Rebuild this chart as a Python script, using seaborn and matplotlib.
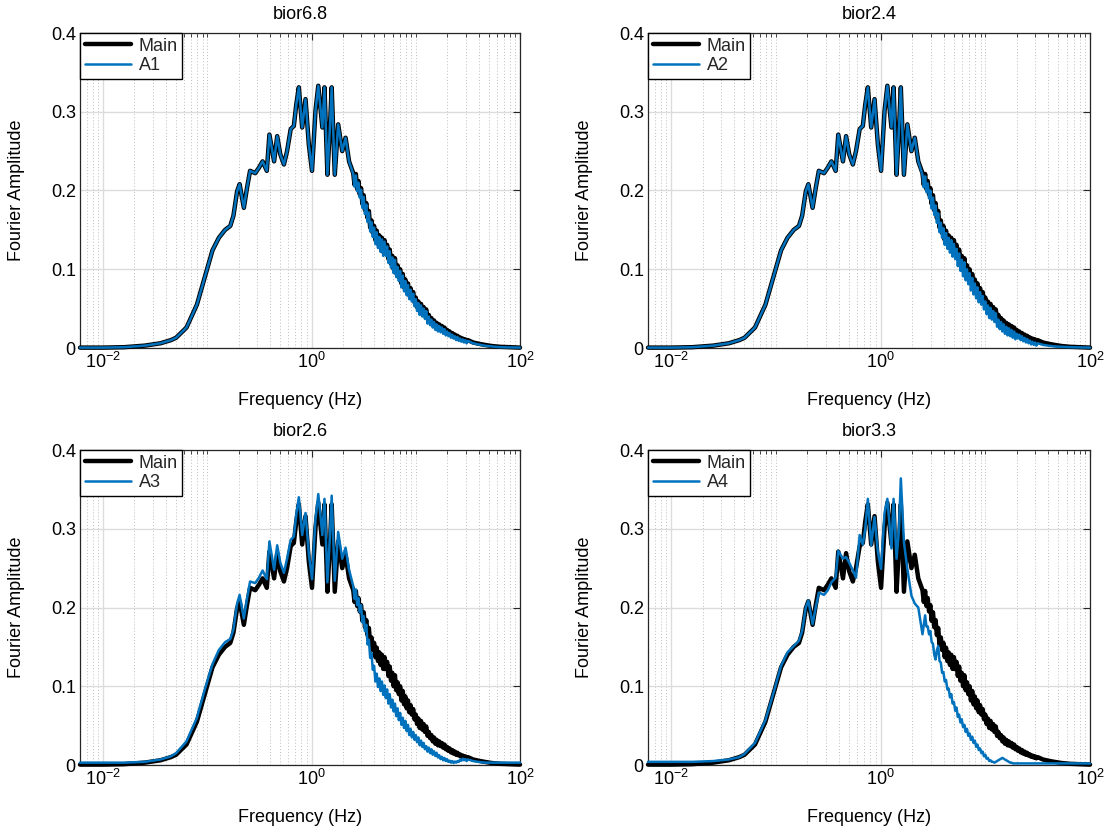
import matplotlib
matplotlib.use("Agg")
import matplotlib.pyplot as plt
import seaborn as sns
from matplotlib.ticker import FixedLocator, FixedFormatter, LogFormatterMathtext, NullFormatter

# Shared frequency axis of the Fourier spectra (Hz)
freq_hz = [
    0.0060, 0.0100, 0.0158, 0.0251, 0.0355, 0.0447, 0.0501, 0.0631, 0.0794, 0.0955,
    0.112, 0.129, 0.148, 0.166, 0.178, 0.193, 0.204, 0.224, 0.240, 0.257,
    0.288, 0.313, 0.339, 0.372, 0.394, 0.437, 0.468, 0.501, 0.543, 0.582,
    0.631, 0.676, 0.713, 0.755, 0.813, 0.875, 0.942, 1.01, 1.09, 1.16,
    1.27, 1.33, 1.42, 1.50, 1.56, 1.67, 1.80, 1.97, 2.12, 2.29,
    2.512, 2.585, 2.661, 2.738, 2.818, 2.901, 2.985, 3.073, 3.162, 3.255,
    3.350, 3.447, 3.548, 3.652, 3.758, 3.868, 3.981, 4.097, 4.217, 4.340,
    4.467, 4.597, 4.732, 4.870, 5.012, 5.158, 5.309, 5.464, 5.623, 5.788,
    5.957, 6.131, 6.310, 6.494, 6.683, 6.879, 7.079, 7.286, 7.499, 7.718,
    7.943, 8.175, 8.414, 8.660, 8.913, 9.173, 9.441, 9.716, 10.00, 10.29,
    10.59, 10.90, 11.22, 11.55, 11.89, 12.23, 12.59, 12.96, 13.34, 13.73,
    14.13, 14.54, 14.96, 15.40, 15.85, 16.31, 16.79, 17.28, 17.78, 18.30,
    18.84, 19.39, 19.95, 20.54, 21.13, 21.75, 22.39, 23.04, 23.71, 24.40,
    25.12, 25.85, 26.61, 27.38, 28.18, 29.01, 29.85, 30.72, 31.62,
    35.5, 39.8, 45.7, 53.7, 64.6, 79.4, 100.0,
]

# Original record
main_amp = [
    0.0005, 0.0005, 0.001, 0.003, 0.006, 0.010, 0.013, 0.026, 0.055, 0.092,
    0.124, 0.140, 0.150, 0.155, 0.168, 0.199, 0.208, 0.178, 0.203, 0.225,
    0.222, 0.229, 0.237, 0.225, 0.271, 0.237, 0.269, 0.246, 0.233, 0.250,
    0.278, 0.282, 0.309, 0.331, 0.280, 0.316, 0.258, 0.225, 0.301, 0.333,
    0.280, 0.331, 0.220, 0.280, 0.331, 0.220, 0.284, 0.250, 0.267, 0.237,
    0.222, 0.207, 0.221, 0.202, 0.212, 0.195, 0.203, 0.183, 0.194, 0.175,
    0.184, 0.165, 0.174, 0.153, 0.162, 0.146, 0.155, 0.137, 0.149, 0.132,
    0.143, 0.127, 0.140, 0.122, 0.137, 0.122, 0.131, 0.113, 0.125, 0.107,
    0.117, 0.100, 0.114, 0.095, 0.105, 0.090, 0.100, 0.082, 0.094, 0.077,
    0.087, 0.072, 0.082, 0.067, 0.076, 0.064, 0.071, 0.058, 0.064, 0.052,
    0.059, 0.047, 0.056, 0.045, 0.052, 0.042, 0.049, 0.037, 0.042, 0.034,
    0.038, 0.030, 0.035, 0.027, 0.032, 0.025, 0.030, 0.024, 0.028, 0.022,
    0.026, 0.020, 0.023, 0.018, 0.021, 0.016, 0.019, 0.0145, 0.017, 0.013,
    0.0155, 0.012, 0.0135, 0.0105, 0.012, 0.0095, 0.011, 0.0085, 0.010,
    0.007, 0.0055, 0.004, 0.0025, 0.0015, 0.001, 0.0005,
]

# Approximations A1..A4
a1_amp = [
    0.0005, 0.0005, 0.001, 0.003, 0.006, 0.010, 0.013, 0.026, 0.055, 0.092,
    0.124, 0.140, 0.150, 0.155, 0.168, 0.199, 0.208, 0.178, 0.203, 0.225,
    0.222, 0.229, 0.237, 0.225, 0.271, 0.237, 0.269, 0.246, 0.233, 0.250,
    0.278, 0.282, 0.309, 0.331, 0.280, 0.316, 0.258, 0.225, 0.301, 0.333,
    0.280, 0.331, 0.220, 0.280, 0.331, 0.220, 0.284, 0.250, 0.267, 0.237,
    0.221, 0.205, 0.219, 0.199, 0.210, 0.191, 0.201, 0.178, 0.192, 0.170,
    0.182, 0.160, 0.172, 0.148, 0.160, 0.141, 0.153, 0.132, 0.147, 0.127,
    0.141, 0.122, 0.138, 0.117, 0.135, 0.117, 0.129, 0.108, 0.123, 0.102,
    0.115, 0.095, 0.112, 0.090, 0.103, 0.085, 0.098, 0.077, 0.092, 0.072,
    0.085, 0.067, 0.080, 0.062, 0.074, 0.059, 0.069, 0.053, 0.062, 0.047,
    0.057, 0.042, 0.054, 0.040, 0.050, 0.037, 0.047, 0.031, 0.040, 0.029,
    0.036, 0.026, 0.033, 0.023, 0.030, 0.021, 0.028, 0.020, 0.026, 0.018,
    0.024, 0.016, 0.021, 0.015, 0.019, 0.013, 0.017, 0.012, 0.015, 0.010,
    0.014, 0.009, 0.012, 0.008, 0.011, 0.007, 0.010, 0.006, 0.009,
    0.006, 0.0045, 0.003, 0.002, 0.001, 0.0008, 0.0005,
]

a2_amp = [
    0.0005, 0.0005, 0.001, 0.003, 0.006, 0.010, 0.013, 0.026, 0.055, 0.092,
    0.124, 0.140, 0.150, 0.155, 0.168, 0.199, 0.208, 0.178, 0.203, 0.225,
    0.222, 0.229, 0.237, 0.225, 0.271, 0.237, 0.269, 0.246, 0.233, 0.250,
    0.278, 0.282, 0.309, 0.331, 0.280, 0.316, 0.258, 0.225, 0.301, 0.333,
    0.280, 0.331, 0.220, 0.280, 0.331, 0.220, 0.284, 0.250, 0.267, 0.237,
    0.220, 0.204, 0.218, 0.198, 0.209, 0.190, 0.200, 0.177, 0.191, 0.169,
    0.181, 0.159, 0.171, 0.147, 0.159, 0.140, 0.152, 0.131, 0.146, 0.126,
    0.140, 0.121, 0.137, 0.116, 0.132, 0.113, 0.126, 0.104, 0.120, 0.098,
    0.112, 0.091, 0.109, 0.086, 0.100, 0.081, 0.095, 0.073, 0.089, 0.068,
    0.082, 0.063, 0.077, 0.058, 0.071, 0.055, 0.066, 0.049, 0.059, 0.043,
    0.054, 0.038, 0.051, 0.036, 0.047, 0.033, 0.044, 0.027, 0.036, 0.024,
    0.033, 0.021, 0.030, 0.018, 0.027, 0.016, 0.025, 0.015, 0.023, 0.013,
    0.021, 0.011, 0.018, 0.012, 0.017, 0.010, 0.015, 0.0085, 0.013, 0.007,
    0.0115, 0.006, 0.0095, 0.0045, 0.008, 0.004, 0.007, 0.003, 0.006,
    0.004, 0.003, 0.002, 0.0015, 0.001, 0.0008, 0.0005,
]

a3_amp = [
    0.003, 0.003, 0.003, 0.004, 0.007, 0.011, 0.015, 0.030, 0.060, 0.098,
    0.128, 0.146, 0.156, 0.160, 0.172, 0.205, 0.216, 0.186, 0.211, 0.233,
    0.231, 0.238, 0.247, 0.236, 0.284, 0.248, 0.279, 0.257, 0.244, 0.262,
    0.286, 0.290, 0.318, 0.340, 0.292, 0.320, 0.268, 0.236, 0.312, 0.344,
    0.292, 0.338, 0.232, 0.290, 0.342, 0.234, 0.296, 0.262, 0.276, 0.248,
    0.227, 0.211, 0.223, 0.203, 0.212, 0.194, 0.203, 0.181, 0.189, 0.170,
    0.178, 0.153, 0.159, 0.136, 0.142, 0.121, 0.126, 0.106, 0.116, 0.099,
    0.110, 0.094, 0.106, 0.089, 0.101, 0.085, 0.096, 0.078, 0.090, 0.073,
    0.083, 0.068, 0.078, 0.062, 0.072, 0.057, 0.066, 0.051, 0.060, 0.047,
    0.056, 0.043, 0.051, 0.038, 0.046, 0.035, 0.042, 0.032, 0.038, 0.029,
    0.035, 0.025, 0.031, 0.023, 0.028, 0.020, 0.024, 0.017, 0.022, 0.015,
    0.020, 0.013, 0.0175, 0.0115, 0.0155, 0.0095, 0.0125, 0.0075, 0.0105, 0.006,
    0.009, 0.005, 0.0075, 0.004, 0.0055, 0.003, 0.005, 0.0025, 0.0045, 0.003,
    0.005, 0.004, 0.007, 0.0055, 0.008, 0.006, 0.0075, 0.005, 0.007,
    0.005, 0.004, 0.003, 0.003, 0.003, 0.003, 0.003,
]

a4_amp = [
    0.004, 0.004, 0.004, 0.005, 0.007, 0.010, 0.014, 0.028, 0.057, 0.093,
    0.126, 0.143, 0.151, 0.158, 0.170, 0.200, 0.209, 0.179, 0.200, 0.219,
    0.216, 0.222, 0.232, 0.238, 0.272, 0.262, 0.264, 0.257, 0.247, 0.238,
    0.292, 0.280, 0.300, 0.338, 0.279, 0.315, 0.270, 0.249, 0.320, 0.338,
    0.275, 0.338, 0.262, 0.300, 0.364, 0.283, 0.249, 0.215, 0.205, 0.200,
    0.166, 0.178, 0.190, 0.176, 0.176, 0.166, 0.170, 0.156, 0.154, 0.140,
    0.134, 0.146, 0.151, 0.132, 0.130, 0.117, 0.118, 0.106, 0.108, 0.096,
    0.097, 0.086, 0.090, 0.078, 0.080, 0.069, 0.073, 0.061, 0.064, 0.054,
    0.058, 0.048, 0.051, 0.042, 0.046, 0.037, 0.040, 0.032, 0.036, 0.028,
    0.031, 0.023, 0.026, 0.019, 0.021, 0.015, 0.017, 0.011, 0.013, 0.008,
    0.009, 0.005, 0.006, 0.004, 0.004, 0.003, 0.004, 0.005, 0.006, 0.007,
    0.008, 0.009, 0.008, 0.007, 0.006, 0.005, 0.004, 0.003, 0.003, 0.002,
    0.002, 0.002, 0.002, 0.002, 0.002, 0.002, 0.002, 0.002, 0.002, 0.002,
    0.002, 0.002, 0.002, 0.002, 0.002, 0.002, 0.002, 0.002, 0.002,
    0.002, 0.002, 0.002, 0.002, 0.002, 0.002, 0.002,
]

panel_titles = ["bior6.8", "bior2.4", "bior2.6", "bior3.3"]
approx_names = ["A1", "A2", "A3", "A4"]
approx_series = [a1_amp, a2_amp, a3_amp, a4_amp]
y_ticks = [0, 0.1, 0.2, 0.3, 0.4]
y_tick_labels = ["0", "0.1", "0.2", "0.3", "0.4"]
x_ticks = [1e-2, 1e0, 1e2]

sns.set_theme(style="white")
plt.rcParams["font.family"] = ["Liberation Sans", "DejaVu Sans"]
plt.rcParams["mathtext.fontset"] = "custom"
plt.rcParams["mathtext.rm"] = "Liberation Sans"
plt.rcParams["mathtext.it"] = "Liberation Sans:italic"
plt.rcParams["mathtext.bf"] = "Liberation Sans:bold"

W, H = 1104, 830
fig = plt.figure(figsize=(W / 100, H / 100), dpi=100)
fig.patch.set_facecolor("white")

# axes boxes in pixels: left, top, right, bottom
boxes = [(80, 33, 520, 348), (648, 33, 1090, 348),
         (80, 450, 520, 765), (648, 450, 1090, 765)]

minor_x = [k * 10.0 ** n for n in range(-3, 2) for k in range(1, 10)
           if not (k == 1 and n % 2 == 0)]

axis_color = "#262626"
blue = "#0072BD"
fs = 13

for title, name, amp, (l, t, r, b) in zip(panel_titles, approx_names, approx_series, boxes):
    ax = fig.add_axes([l / W, 1 - b / H, (r - l) / W, (b - t) / H])
    ax.set_xscale("log")
    sns.lineplot(x=freq_hz, y=main_amp, ax=ax, color="black", linewidth=3.2,
                 label="Main", sort=False, estimator=None, clip_on=False, zorder=3)
    sns.lineplot(x=freq_hz, y=amp, ax=ax, color=blue, linewidth=1.8,
                 label=name, sort=False, estimator=None, clip_on=False, zorder=4)
    ax.set_xlim(0.006, 100)
    ax.set_ylim(0, 0.4)

    ax.xaxis.set_major_locator(FixedLocator(x_ticks))
    ax.xaxis.set_major_formatter(LogFormatterMathtext())
    ax.xaxis.set_minor_locator(FixedLocator(minor_x))
    ax.xaxis.set_minor_formatter(NullFormatter())
    ax.yaxis.set_major_locator(FixedLocator(y_ticks))
    ax.yaxis.set_major_formatter(FixedFormatter(y_tick_labels))

    ax.set_axisbelow(True)
    ax.grid(which="major", color="#dcdcdc", linewidth=1.0, linestyle="-")
    ax.grid(which="minor", axis="x", color="#bdbdbd", linewidth=0.7, linestyle=(0, (1, 2.2)))

    ax.tick_params(which="both", direction="in", top=True, right=True,
                   color=axis_color, labelsize=fs, labelcolor="black")
    ax.tick_params(axis="x", which="major", length=5, width=0.8, pad=3)
    ax.tick_params(axis="y", which="major", length=5, width=0.8, pad=3)
    ax.tick_params(which="minor", length=3, width=0.6)
    for sp in ax.spines.values():
        sp.set_color(axis_color)
        sp.set_linewidth(0.9)
        sp.set_visible(True)

    ax.set_title(title, fontsize=fs, pad=10, color="black")
    ax.set_xlabel("Frequency (Hz)", fontsize=fs, color="black")
    ax.set_ylabel("Fourier Amplitude", fontsize=fs, color="black")
    ax.xaxis.set_label_coords(0.5, -0.14)
    ax.yaxis.set_label_coords(-0.125, 0.5)

    leg = ax.legend(loc="upper left", borderaxespad=0, frameon=True, fancybox=False,
                    edgecolor="black", fontsize=fs, handlelength=2.6, borderpad=0.25,
                    labelspacing=0.15, handletextpad=0.4, framealpha=1)
    leg.get_frame().set_linewidth(1.0)
    leg.set_zorder(10)

fig.savefig("out.png", dpi=100, facecolor="white")
